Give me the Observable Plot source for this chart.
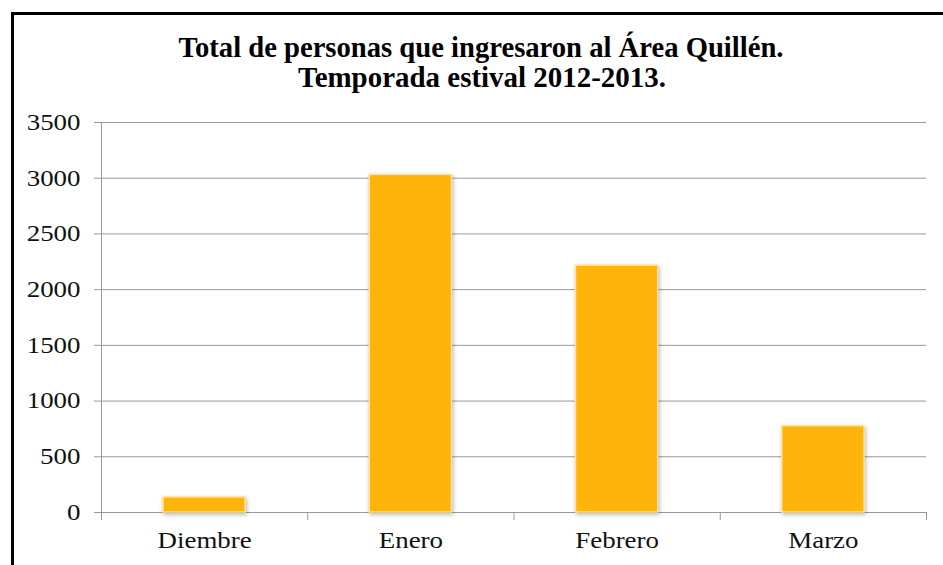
<!DOCTYPE html>
<html><head><meta charset="utf-8">
<script src="https://cdn.jsdelivr.net/npm/d3@7"></script>
<script src="https://cdn.jsdelivr.net/npm/@observablehq/plot@0.6"></script>
<style>
html,body{margin:0;padding:0;background:#fff;overflow:hidden;width:943px;height:565px}
#frame{position:absolute;left:11px;top:12px;width:1000px;height:700px;border:3px solid #000;box-sizing:border-box;z-index:10;pointer-events:none}
#title{position:absolute;left:0;top:0}
#chart{position:absolute;left:0;top:100px}
.bars rect{filter:drop-shadow(1px 2px 2px rgba(0,0,0,0.28))}
</style></head><body>
<svg id="title" width="943" height="100" font-family="'Liberation Serif', 'Times New Roman', serif" font-weight="bold" font-size="29">
  <text x="481" y="57" text-anchor="middle" textLength="605" lengthAdjust="spacingAndGlyphs">Total de personas que ingresaron al Área Quillén.</text>
  <text x="482" y="87" text-anchor="middle" textLength="368" lengthAdjust="spacingAndGlyphs">Temporada estival 2012-2013.</text>
</svg>
<div id="chart"></div>
<div id="frame"></div>
<script>
const months = ["Diembre", "Enero", "Febrero", "Marzo"];
const visitors = [135, 3030, 2215, 775];
const yTicks = [0, 500, 1000, 1500, 2000, 2500, 3000, 3500];

const data = months.map((m, i) => ({i, month: m, value: visitors[i]}));
const boundaries = d3.range(0, months.length + 1);
const centers = months.map((m, i) => i + 0.5);

const chart = Plot.plot({
  width: 943, height: 465,
  marginLeft: 101, marginRight: 17, marginTop: 22, marginBottom: 53,
  style: {background: "transparent", fontFamily: "'Liberation Serif', 'Times New Roman', serif", fontSize: "23px", color: "#111"},
  x: {type: "linear", domain: [0, months.length], axis: null},
  y: {domain: [0, 3500], axis: null},
  marks: [
    Plot.gridY(yTicks, {stroke: "#999", strokeOpacity: 1}),
    Plot.axisY({ticks: yTicks, tickSize: 7, tickFormat: () => "", stroke: "#999", label: null}),
    Plot.axisY({ticks: yTicks, tickSize: 0, tickPadding: 21, tickFormat: d => String(d), fill: "#111", fontSize: 23, label: null, className: "ylab"}),
    Plot.ruleX([0], {stroke: "#999"}),
    Plot.ruleY([0], {stroke: "#999"}),
    Plot.axisX({ticks: boundaries, tickSize: 8, tickFormat: () => "", stroke: "#999", label: null}),
    Plot.axisX({ticks: centers, tickSize: 0, tickPadding: 19, tickFormat: d => months[Math.floor(d)], fill: "#111", fontSize: 23, label: null, className: "xlab"}),
    Plot.rectY(data, {x1: d => d.i, x2: d => d.i + 1, y: "value", insetLeft: 62, insetRight: 62,
      fill: "#FFB40B", stroke: "#FFE3A0", strokeWidth: 1.5, className: "bars"})
  ]
});
document.getElementById("chart").appendChild(chart);
// widen labels horizontally like the reference's stretched serif text
chart.querySelectorAll(".ylab text, .xlab text").forEach(t => {
  const w = t.getComputedTextLength();
  if (w > 0) { t.setAttribute("textLength", (w * 1.17).toFixed(1)); t.setAttribute("lengthAdjust", "spacingAndGlyphs"); }
});
</script>
</body></html>
